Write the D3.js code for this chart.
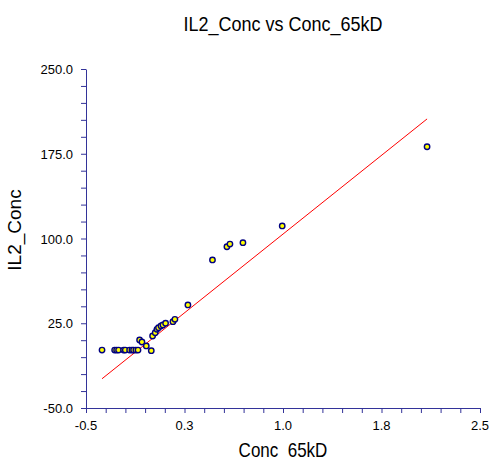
<!DOCTYPE html>
<html>
<head>
<meta charset="utf-8">
<script src="https://cdn.jsdelivr.net/npm/d3@7"></script>
<style>
  body { margin: 0; background: #fff; }
  text { font-family: Arial, "Liberation Sans", sans-serif; fill: #000; }
</style>
</head>
<body>
<svg id="chart" width="490" height="460"></svg>
<script>
// values
const conc65kD = [-0.378, -0.282, -0.267, -0.252, -0.214, -0.201, -0.168, -0.150, -0.138, -0.120,
  -0.104, -0.092, -0.074, -0.041, -0.003, 0.007, 0.027, 0.040, 0.052, 0.071,
  0.086, 0.106, 0.162, 0.177, 0.276, 0.463, 0.573, 0.596, 0.695, 0.994, 2.097];
const il2Conc = [1.3, 1.3, 1.3, 1.3, 1.3, 1.3, 1.3, 1.3, 1.3, 1.3,
  1.3, 10.2, 8.4, 4.9, 0.7, 13.7, 16.6, 19.6, 21.1, 22.6,
  23.5, 25.0, 26.4, 28.5, 41.2, 81.0, 92.7, 95.1, 96.3, 111.1, 181.2];

// fitted line as drawn: intercept, slope
const fitLine = [11.0, 92.9];

const xDomain = [-0.5, 2.5];
const yDomain = [-50, 250];
const xMajor = [-0.5, 0.25, 1.0, 1.75, 2.5];
const xTickLabels = ['-0.5', '0.3', '1.0', '1.8', '2.5'];
const yMajor = [-50, 25, 100, 175, 250];
const yTickLabels = ['-50.0', '25.0', '100.0', '175.0', '250.0'];

const axisColor = '#333399';

const svg = d3.select('#chart');
const margin = { left: 86, right: 10, top: 69, bottom: 52 };
const W = 490, H = 460;

const x = d3.scaleLinear().domain(xDomain).range([margin.left, W - margin.right]);
const y = d3.scaleLinear().domain(yDomain).range([H - margin.bottom, margin.top]);

// minor ticks every fifth of a major step
const xMinor = d3.range(0, 21).map(i => xDomain[0] + i * 0.15);
const yMinor = d3.range(0, 21).map(i => yDomain[0] + i * 15);

// x axis
const gx = svg.append('g')
  .attr('transform', `translate(0,${y(yDomain[0])})`)
  .call(d3.axisBottom(x).tickValues(xMinor).tickSize(5).tickSizeOuter(0).tickFormat(''));
gx.selectAll('line, path').attr('stroke', axisColor);

svg.append('g').selectAll('text')
  .data(xMajor)
  .join('text')
  .attr('x', d => x(d))
  .attr('y', y(yDomain[0]) + 22)
  .attr('text-anchor', 'middle')
  .attr('font-size', 13)
  .text((d, i) => xTickLabels[i]);

// y axis
const gy = svg.append('g')
  .attr('transform', `translate(${x(xDomain[0])},0)`)
  .call(d3.axisLeft(y).tickValues(yMinor).tickSize(5).tickSizeOuter(0).tickFormat(''));
gy.selectAll('line, path').attr('stroke', axisColor);

svg.append('g').selectAll('text')
  .data(yMajor)
  .join('text')
  .attr('x', x(xDomain[0]) - 13)
  .attr('y', d => y(d) + 5)
  .attr('text-anchor', 'end')
  .attr('font-size', 13)
  .text((d, i) => yTickLabels[i]);

// regression line over the data range
const xr = d3.extent(conc65kD);
svg.append('line')
  .attr('x1', x(xr[0])).attr('y1', y(fitLine[0] + fitLine[1] * xr[0]))
  .attr('x2', x(xr[1])).attr('y2', y(fitLine[0] + fitLine[1] * xr[1]))
  .attr('stroke', '#ff0000')
  .attr('stroke-width', 1);

// points
svg.append('g').selectAll('circle')
  .data(conc65kD.map((v, i) => [v, il2Conc[i]]))
  .join('circle')
  .attr('cx', d => x(d[0]))
  .attr('cy', d => y(d[1]))
  .attr('r', 2.7)
  .attr('fill', '#ffff00')
  .attr('stroke', '#000080')
  .attr('stroke-width', 1.4);

// titles
svg.append('text')
  .attr('transform', `translate(${(x(xDomain[0]) + x(xDomain[1])) / 2},31) scale(1,1.15)`)
  .attr('text-anchor', 'middle')
  .attr('font-size', 18)
  .text('IL2_Conc vs Conc_65kD');

svg.append('text')
  .attr('transform', `translate(${(x(xDomain[0]) + x(xDomain[1])) / 2},457) scale(1,1.2)`)
  .attr('text-anchor', 'middle')
  .attr('font-size', 17)
  .text('Conc_65kD');

svg.append('text')
  .attr('transform', `translate(21,230) rotate(-90)`)
  .attr('text-anchor', 'middle')
  .attr('font-size', 19)
  .text('IL2_Conc');
</script>
</body>
</html>
